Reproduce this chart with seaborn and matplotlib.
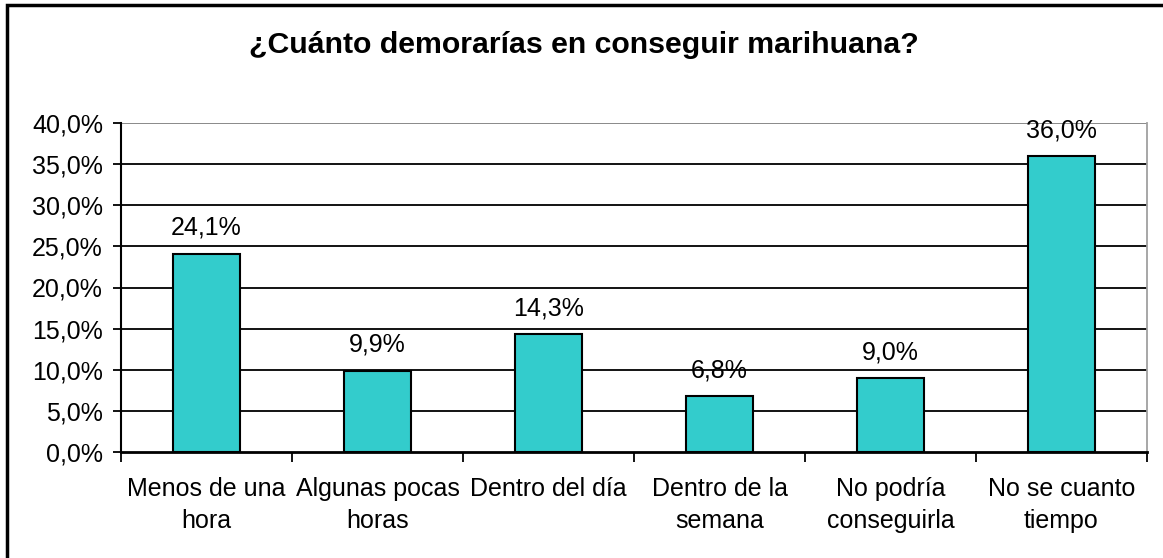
import matplotlib
matplotlib.use("Agg")
import matplotlib.pyplot as plt
import seaborn as sns
import pandas as pd
from matplotlib.patches import Rectangle
from matplotlib.ticker import FuncFormatter, FixedLocator


# DATA

categories = [
    "Menos de una\nhora",
    "Algunas pocas\nhoras",
    "Dentro del día",
    "Dentro de la\nsemana",
    "No podría\nconseguirla",
    "No se cuanto\ntiempo",
]
values = [24.1, 9.9, 14.3, 6.8, 9.0, 36.0]
y_ticks = [0, 5, 10, 15, 20, 25, 30, 35, 40]

TITLE = "¿Cuánto demorarías en conseguir marihuana?"
BAR_COLOR = "#33CCCC"
FS = 18


def fmt_pct(v):
    return f"{v:.1f}%".replace(".", ",")


df = pd.DataFrame({"cat": categories, "val": values})

sns.set_style("white")
plt.rcParams["font.family"] = ["Liberation Sans", "DejaVu Sans"]
plt.rcParams["text.color"] = "black"

fig = plt.figure(figsize=(11.63, 5.58), dpi=100)
ax = fig.add_axes([121 / 1163, 1 - 452 / 558, (1147 - 121) / 1163, (452 - 123) / 558])

sns.barplot(data=df, x="cat", y="val", color=BAR_COLOR, width=0.39,
            edgecolor="black", linewidth=1.5, saturation=1, ax=ax)

ax.set_ylim(0, 40)
ax.set_xlim(-0.5, len(categories) - 0.5)

# gridlines
for t in y_ticks[1:-1]:
    ax.axhline(t, color="black", linewidth=1.3, zorder=0)
ax.axhline(40, color="#808080", linewidth=1.3, zorder=0)

ax.yaxis.set_major_locator(FixedLocator(y_ticks))
ax.yaxis.set_major_formatter(FuncFormatter(lambda v, p: fmt_pct(v)))
ax.tick_params(axis="y", labelsize=FS, length=6, width=1.3, direction="out",
               left=True, pad=7, colors="black")

# x ticks at category boundaries
ax.set_xticks(range(len(categories)))
ax.set_xticklabels(categories, fontsize=FS, linespacing=1.4)
ax.tick_params(axis="x", length=0, pad=18, colors="black")
ax.set_xticks([i - 0.5 for i in range(len(categories) + 1)], minor=True)
ax.tick_params(axis="x", which="minor", length=7, width=1.3, direction="out",
               bottom=True, color="black")

ax.set_xlabel("")
ax.set_ylabel("")

ax.spines["top"].set_visible(False)
ax.spines["right"].set_color("#A0A0A0")
ax.spines["right"].set_linewidth(1.3)
ax.spines["left"].set_color("black")
ax.spines["left"].set_linewidth(1.5)
ax.spines["bottom"].set_color("black")
ax.spines["bottom"].set_linewidth(2)

# value labels
ax.bar_label(ax.containers[0], labels=[fmt_pct(v) for v in values],
             padding=10, fontsize=FS, color="black")

fig.text(584 / 1163, 1 - 45 / 558, TITLE, ha="center", va="center",
         fontsize=21.8, fontweight="bold", color="black")

# outer chart border
fig.patches.append(Rectangle((7 / 1163, -0.1), 1.2, 1 - 5 / 558 + 0.1,
                             transform=fig.transFigure, fill=False,
                             edgecolor="black", linewidth=2.5))

fig.savefig("out.png", dpi=100)
plt.close()
